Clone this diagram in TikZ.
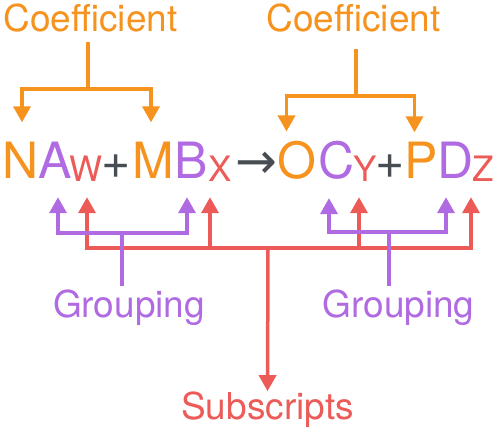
\documentclass[tikz,border=0pt]{standalone}
\usepackage{fontspec}
\setmainfont{TeX Gyre Heros}
\newfontfamily\arrowfont{DejaVu Sans}
\usetikzlibrary{arrows.meta}
\definecolor{cforange}{HTML}{F6921E}
\definecolor{gpurple}{HTML}{B06BE2}
\definecolor{sred}{HTML}{EC5B57}
\definecolor{sgray}{HTML}{484D53}
\tikzset{
  wire/.style={line width=3.5pt},
  tipwire/.style={wire,-{Triangle[width=17pt,length=16pt]}},
  chem/.style={inner sep=0pt,anchor=base,font=\fontsize{50}{50}\selectfont},
  idx/.style={inner sep=0pt,anchor=base,font=\fontsize{35}{35}\selectfont},
  note/.style={inner sep=0pt,anchor=base,font=\fontsize{37}{37}\selectfont},
}
\begin{document}
\begin{tikzpicture}[x=1pt,y=-1pt]
\useasboundingbox (0,0) rectangle (494,428);

\node[chem,cforange] (N) at (20.5,178) {N};
\node[chem,gpurple]  (A) at (55,178) {A};
\node[idx,sred]      (W) at (86.5,181) {W};
\node[chem,sgray]    (p1) at (116,178) {+};
\node[chem,cforange] (M) at (153.5,178) {M};
\node[chem,gpurple]  (B) at (191.5,178) {B};
\node[idx,sred]      (X) at (220,181) {X};
\node[chem,sgray]    (ar) at (256,178) {\arrowfont →};
\node[chem,cforange] (O) at (296.5,178) {O};
\node[chem,gpurple]  (C) at (336.5,178) {C};
\node[idx,sred]      (Y) at (365.5,181) {Y};
\node[chem,sgray]    (p2) at (390.5,178) {+};
\node[chem,cforange] (P) at (421.5,178) {P};
\node[chem,gpurple]  (D) at (456,178) {D};
\node[idx,sred]      (Z) at (483,181) {Z};

\node[note,cforange] (cfL) at (90.5,31) {Coefficient};
\node[note,cforange] (cfR) at (353.5,31) {Coefficient};
\node[note,gpurple]  (grL) at (129,317) {Grouping};
\node[note,gpurple]  (grR) at (398.5,317) {Grouping};
\node[note,sred]     (sb)  at (267.5,419) {Subscripts};

\coordinate (jL) at (88,89);
\coordinate (jR) at (356,96);
\coordinate (gL) at (122,233);
\coordinate (gR) at (389,232);
\coordinate (sJ) at (268,248);

% coefficients
\draw[wire,cforange,shorten <=10pt] (cfL.south -| jL) -- (jL);
\draw[tipwire,cforange,shorten >=19pt] (jL) -| ([xshift=1.5pt]N.north);
\draw[tipwire,cforange,shorten >=19pt] (jL) -| ([xshift=-2.5pt]M.north);
\draw[wire,cforange,shorten <=17pt] (cfR.south -| jR) -- (jR);
\draw[tipwire,cforange,shorten >=9pt] (jR) -| ([xshift=-10pt]O.north);
\draw[tipwire,cforange,shorten >=9pt] (jR) -| ([xshift=-7pt]P.north);

% subscripts
\draw[tipwire,sred] (sJ) -- (sb.north);
\draw[tipwire,sred,shorten >=16pt] (sJ) -| ([xshift=0.5pt]W.south);
\draw[tipwire,sred,shorten >=16pt] (sJ) -| ([xshift=-10pt]X.south);
\draw[tipwire,sred,shorten >=16pt] (sJ) -| ([xshift=-6.5pt]Y.south);
\draw[tipwire,sred,shorten >=16pt] (sJ) -| ([xshift=-12pt]Z.south);

% grouping
\draw[wire,gpurple,shorten <=3pt] (grL.north -| gL) -- (gL);
\draw[tipwire,gpurple,shorten >=19pt] (gL) -| ([xshift=3pt]A.south);
\draw[tipwire,gpurple,shorten >=19pt] (gL) -| ([xshift=-4.5pt]B.south);
\draw[wire,gpurple,shorten <=3pt] (grR.north -| gR) -- (gR);
\draw[tipwire,gpurple,shorten >=19pt] (gR) -| ([xshift=-7.5pt]C.south);
\draw[tipwire,gpurple,shorten >=19pt] (gR) -| ([xshift=-10pt]D.south);
\end{tikzpicture}
\end{document}
